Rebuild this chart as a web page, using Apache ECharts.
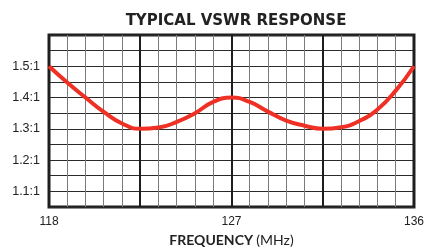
<!DOCTYPE html>
<html>
<head>
<meta charset="utf-8">
<script src="https://cdn.jsdelivr.net/npm/echarts@6/dist/echarts.min.js"></script>
<style>
html,body{margin:0;padding:0;background:#fff;}
#chart{width:427px;height:252px;}
</style>
</head>
<body>
<div id="chart"></div>
<script>
// VSWR curve, frequency in MHz
var freq = [118, 118.9, 119.8, 120.7, 121.6, 122.5, 123.4, 124.3, 125.2, 126.1, 127,
	127.9, 128.8, 129.7, 130.6, 131.5, 132.4, 133.3, 134.2, 135.1, 136];
var vswr = [1.50, 1.448, 1.40, 1.354, 1.317, 1.300, 1.304, 1.322, 1.350, 1.386, 1.400,
	1.386, 1.355, 1.326, 1.310, 1.300, 1.305, 1.325, 1.362, 1.422, 1.50];
var xTickLabels = [118, 127, 136];
var yTickLabels = [1.1, 1.2, 1.3, 1.4, 1.5];

var chart = echarts.init(document.getElementById('chart'));
var pts = [];
for (var i = 0; i < freq.length; i++) {
	pts.push([freq[i], vswr[i]]);
}

var labelFont = '"Liberation Sans", Arial, sans-serif';

var option = {
	animation: false,
	title: {
		text: 'TYPICAL VSWR RESPONSE',
		left: 231,
		textAlign: 'center',
		top: 9,
		textStyle: {fontFamily: '"DejaVu Sans", sans-serif', fontWeight: 'bold', fontSize: 15, color: '#222'}
	},
	grid: {
		left: 49, top: 35, right: 9, bottom: 42,
		show: true, borderColor: '#1e1e1e', borderWidth: 3
	},
	xAxis: [{
		type: 'value', min: 118, max: 136, interval: 0.9,
		axisLine: {show: false}, axisTick: {show: false},
		splitLine: {show: true, lineStyle: {color: '#7a7a7a', width: 1}},
		axisLabel: {
			margin: 9, color: '#222', fontSize: 12, fontFamily: labelFont,
			formatter: function (v) {
				for (var k = 0; k < xTickLabels.length; k++) {
					if (Math.abs(v - xTickLabels[k]) < 0.01) return String(xTickLabels[k]);
				}
				return '';
			}
		},
		name: '{b|FREQUENCY} {n|(MHz)}',
		nameLocation: 'middle', nameGap: 26,
		nameTextStyle: {
			rich: {
				b: {fontFamily: 'Lato, sans-serif', fontWeight: 700, fontSize: 14, color: '#222'},
				n: {fontFamily: 'Lato, sans-serif', fontSize: 14, color: '#222'}
			}
		}
	}, {
		// heavier lines every 5 columns
		type: 'value', min: 118, max: 136, interval: 4.5, position: 'top',
		axisLine: {show: false}, axisTick: {show: false}, axisLabel: {show: false},
		splitLine: {show: true, lineStyle: {color: '#1e1e1e', width: 2}}
	}],
	yAxis: {
		type: 'value', min: 1.05, max: 1.6, interval: 0.05,
		axisLine: {show: false}, axisTick: {show: false},
		splitLine: {show: true, lineStyle: {color: '#2a2a2a', width: 1}},
		axisLabel: {
			margin: 9, color: '#222', fontSize: 12.5, fontFamily: labelFont,
			formatter: function (v) {
				for (var k = 0; k < yTickLabels.length; k++) {
					if (Math.abs(v - yTickLabels[k]) < 0.001) return yTickLabels[k].toFixed(1) + ':1';
				}
				return '';
			}
		}
	},
	series: [{
		type: 'line', xAxisIndex: 0, yAxisIndex: 0,
		data: pts, smooth: 0.5, showSymbol: false, symbol: 'none',
		lineStyle: {color: '#ee3124', width: 4},
		z: 5
	}]
};

chart.setOption(option);
</script>
</body>
</html>
